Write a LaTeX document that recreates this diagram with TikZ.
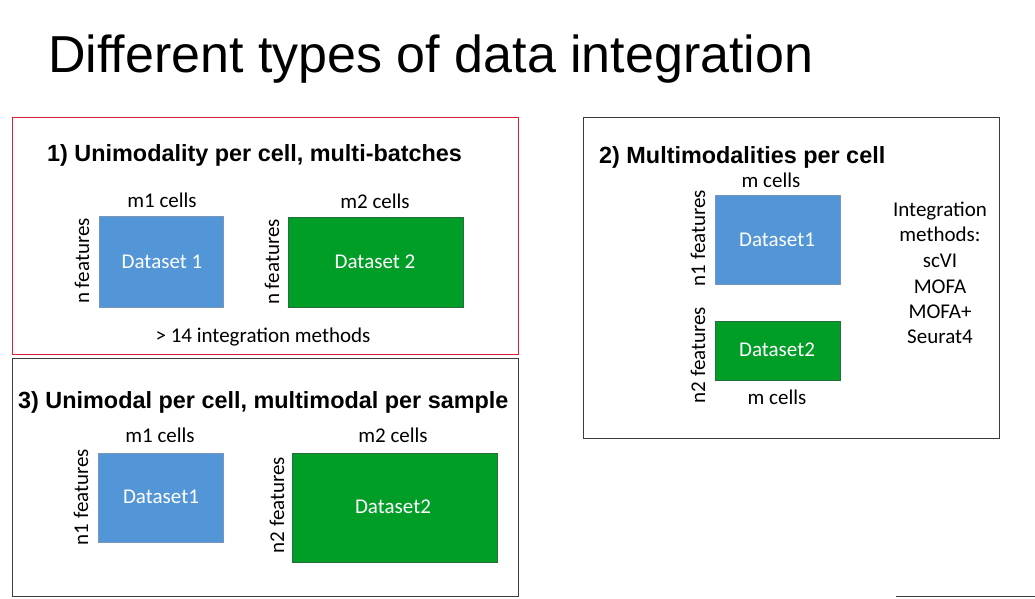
\documentclass[tikz,border=0pt]{standalone}
\usepackage{fontspec}
\setmainfont{Carlito}
\newfontfamily\arialfont{Liberation Sans}
\definecolor{dsblue}{RGB}{83,150,216}
\definecolor{dsblueedge}{RGB}{120,150,185}
\definecolor{dsgreen}{RGB}{0,158,38}
\definecolor{dsgreenedge}{RGB}{40,110,60}
\definecolor{panelgray}{RGB}{60,60,60}
\definecolor{panelred}{RGB}{220,30,50}
\begin{document}
\begin{tikzpicture}[x=1pt,y=-1pt,
  panel/.style={draw=panelgray, line width=0.9pt},
  heading/.style={anchor=base west, inner sep=0pt, font=\arialfont\bfseries\fontsize{23.4}{26}\selectfont},
  label/.style={anchor=base, inner sep=0pt, font=\fontsize{21}{24}\selectfont},
  sidelabel/.style={rotate=90, inner sep=0pt, font=\fontsize{21}{24}\selectfont},
  dset/.style={text=white, font=\fontsize{21}{24}\selectfont},
  blueset/.style={fill=dsblue, draw=dsblueedge, line width=0.6pt},
  greenset/.style={fill=dsgreen, draw=dsgreenedge, line width=0.6pt}]
\useasboundingbox (0,0) rectangle (1035,598);
\fill[white] (0,0) rectangle (1035,598);

% title
\node[anchor=base west, inner sep=0pt, font=\arialfont\fontsize{52}{60}\selectfont] (title) at (48,72) {Different types of data integration};

% panel 1: unimodality per cell, multi-batches
\draw[draw=panelred, line width=0.9pt] (12,117) rectangle (518,354);
\node[heading] (h1) at (47,161) {1) Unimodality per cell, multi-batches};
\fill[blueset] (99,216) rectangle (223,307);
\node[dset] (d11) at (162,262) {Dataset 1};
\fill[greenset] (288,217) rectangle (463,307);
\node[dset] (d12) at (375,262) {Dataset 2};
\node[label] (c11) at (162,207) {m1 cells};
\node[label] (c12) at (375,208) {m2 cells};
\node[sidelabel] (f11) at (82,261) {n features};
\node[sidelabel] (f12) at (272,262) {n features};
\node[label] (m1) at (263,342) {> 14 integration methods};

% panel 3: unimodal per cell, multimodal per sample
\draw[panel] (12,358) rectangle (518,596);
\node[heading] (h3) at (18,408) {3) Unimodal per cell, multimodal per sample};
\fill[blueset] (98,453) rectangle (223,542);
\node[dset] (d31) at (161,497) {Dataset1};
\fill[greenset] (292,453) rectangle (497,562);
\node[dset] (d32) at (393,507) {Dataset2};
\node[label] (c31) at (160,442) {m1 cells};
\node[label] (c32) at (393,442) {m2 cells};
\node[sidelabel] (f31) at (81,497) {n1 features};
\node[sidelabel] (f32) at (277,505) {n2 features};

% panel 2: multimodalities per cell
\draw[panel] (583,117) rectangle (999,438);
\node[heading] (h2) at (599,163) {2) Multimodalities per cell};
\fill[blueset] (715,195) rectangle (840,284);
\node[dset] (d21) at (777,240) {Dataset1};
\fill[greenset] (715,321) rectangle (840,380);
\node[dset] (d22) at (777,350) {Dataset2};
\node[label] (c21) at (771,187) {m cells};
\node[label] (c22) at (777,404) {m cells};
\node[sidelabel] (f21) at (698,238) {n1 features};
\node[sidelabel] (f22) at (698,355) {n2 features};
\node[label] (i1) at (940,216) {Integration};
\node[label] (i2) at (940,241) {methods:};
\node[label] (i3) at (940,267) {scVI};
\node[label] (i4) at (940,293) {MOFA};
\node[label] (i5) at (940,318) {MOFA+};
\node[label] (i6) at (940,343) {Seurat4};

% frame edge at the lower right
\draw[panelgray, line width=1.5pt] (896,596.5) -- (1035,596.5);
\end{tikzpicture}
\end{document}
